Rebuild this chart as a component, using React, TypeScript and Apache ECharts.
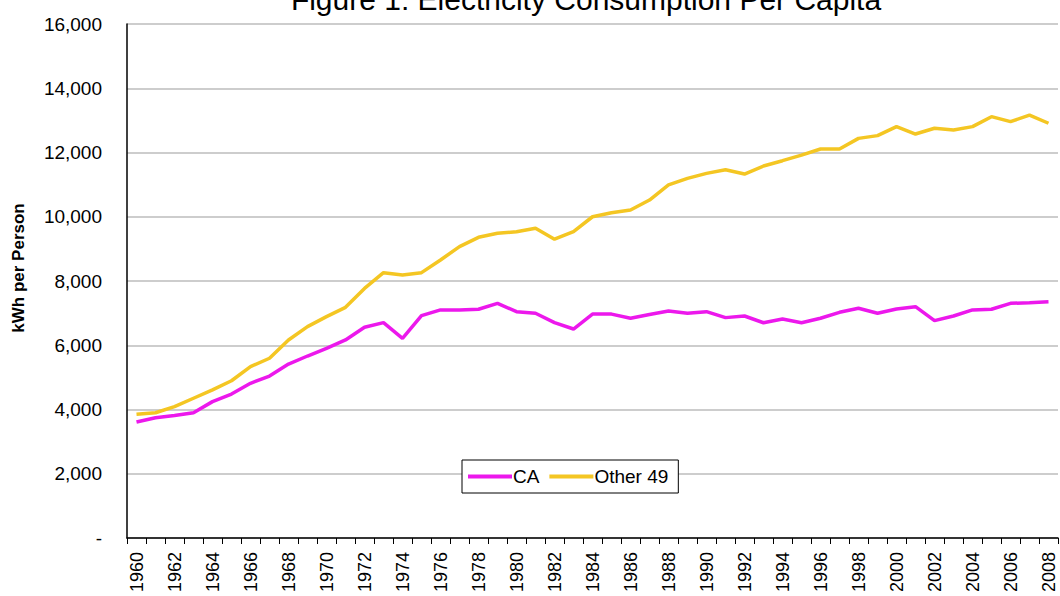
import React, { useEffect, useRef } from "react";
import * as echarts from "echarts";

const years: string[] = [];
for (let y = 1960; y <= 2008; y++) years.push(String(y));

const caValues = [
  3610, 3745, 3810, 3900, 4245, 4480, 4815, 5040, 5415, 5665,
  5905, 6165, 6560, 6705, 6215, 6920, 7100, 7100, 7120, 7305,
  7045, 6995, 6705, 6505, 6970, 6970, 6840, 6960, 7065, 6995,
  7045, 6860, 6910, 6700, 6815, 6700, 6840, 7025, 7150, 6995,
  7130, 7200, 6765, 6910, 7100, 7120, 7305, 7325, 7355,
];

const other49Values = [
  3850, 3900, 4090, 4350, 4610, 4895, 5335, 5595, 6165, 6580,
  6890, 7180, 7770, 8260, 8185, 8260, 8655, 9070, 9360, 9485,
  9535, 9640, 9300, 9535, 10000, 10125, 10210, 10520, 10990, 11195,
  11350, 11465, 11330, 11580, 11745, 11920, 12110, 12110, 12440, 12525,
  12805, 12575, 12755, 12700, 12805, 13115, 12960, 13165, 12910,
];

const titleText = "Figure 1: Electricity Consumption Per Capita";
const yAxisName = "kWh per Person";

const FONT = "Liberation Sans, Arial, sans-serif";

export default function App() {
  const ref = useRef<HTMLDivElement>(null);
  useEffect(() => {
    if (!ref.current) return;
    const chart = echarts.init(ref.current, undefined, { renderer: "svg" });
    chart.setOption({
      animation: false,
      backgroundColor: "#ffffff",
      textStyle: { fontFamily: FONT },
      title: {
        text: titleText,
        left: 581,
        top: -21,
        textAlign: "center",
        textStyle: { fontSize: 30, fontWeight: "normal", color: "#000", fontFamily: FONT },
      },
      graphic: [
        {
          type: "text",
          x: 18,
          y: 268,
          rotation: Math.PI / 2,
          style: {
            text: yAxisName,
            fontSize: 17,
            fontWeight: "bold",
            fontFamily: FONT,
            fill: "#000",
            align: "center",
            verticalAlign: "middle",
          },
        },
      ],
      grid: { left: 127, right: 2, top: 24, bottom: 58, containLabel: false },
      legend: {
        left: 462,
        top: 460,
        orient: "horizontal",
        backgroundColor: "#fff",
        borderColor: "#000",
        borderWidth: 1,
        borderRadius: 0,
        padding: [7, 10, 7, 6],
        itemGap: 10,
        itemWidth: 44,
        itemHeight: 4,
        icon: "rect",
        textStyle: { fontSize: 19, color: "#000", padding: [0, 0, 0, -4] },
        data: ["CA", "Other 49"],
      },
      xAxis: {
        type: "category",
        data: years,
        boundaryGap: true,
        axisLine: { show: true, lineStyle: { color: "#000", width: 1.5 } },
        axisTick: { show: true, alignWithLabel: false, interval: 0, length: 6, lineStyle: { color: "#000" } },
        axisLabel: {
          interval: 1,
          rotate: 90,
          fontSize: 18,
          color: "#000",
          margin: 14,
        },
        splitLine: { show: false },
      },
      yAxis: {
        type: "value",
        min: 0,
        max: 16000,
        interval: 2000,
        axisLine: { show: true, lineStyle: { color: "#000", width: 1.5 } },
        axisTick: { show: false },
        axisLabel: {
          fontSize: 19,
          color: "#000",
          margin: 25,
          formatter: (v: number) => (v === 0 ? "-" : v.toLocaleString("en-US")),
        },
        splitLine: { show: true, lineStyle: { color: "#bdbdbd", width: 1.5 } },
      },
      series: [
        {
          name: "CA",
          type: "line",
          data: caValues,
          showSymbol: false,
          symbol: "none",
          lineStyle: { color: "#ec18ec", width: 3.5 },
          itemStyle: { color: "#ec18ec" },
        },
        {
          name: "Other 49",
          type: "line",
          data: other49Values,
          showSymbol: false,
          symbol: "none",
          lineStyle: { color: "#f4c623", width: 3.5 },
          itemStyle: { color: "#f4c623" },
        },
      ],
    });
    return () => chart.dispose();
  }, []);
  return <div ref={ref} style={{ width: 1060, height: 596, position: "fixed", left: 0, top: 0 }} />;
}
